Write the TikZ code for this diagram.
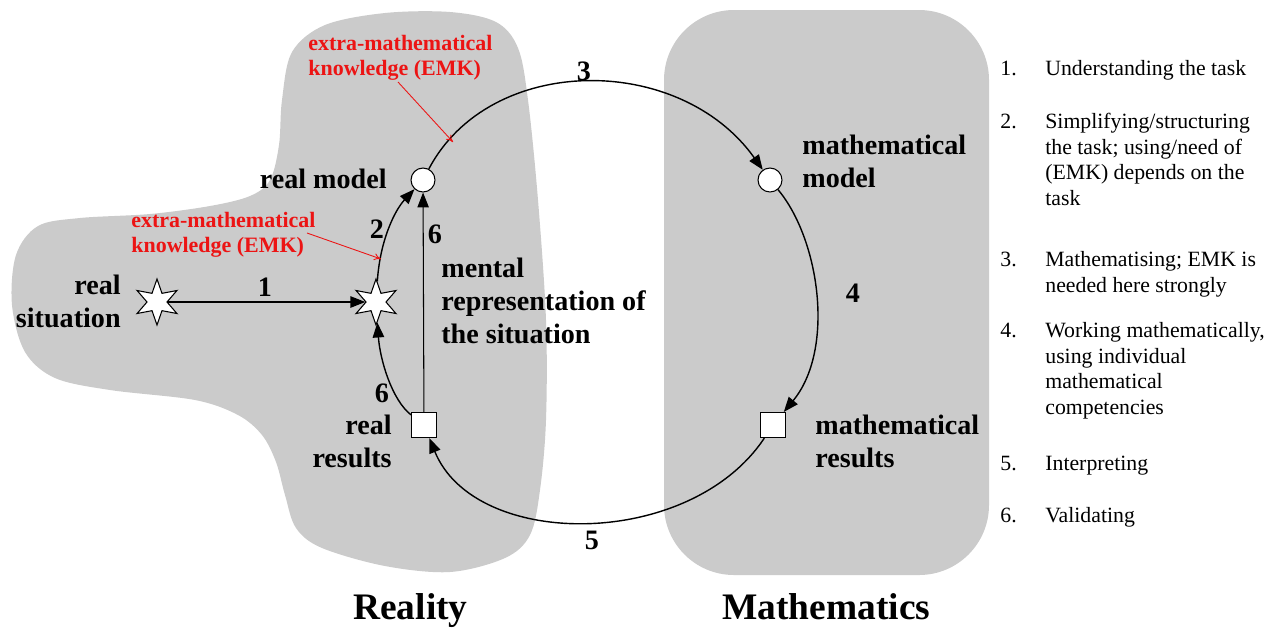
\documentclass[tikz,border=0pt]{standalone}
\usepackage{fontspec}
\setmainfont{Liberation Serif}
\usetikzlibrary{shapes.geometric,arrows.meta}
\definecolor{blobgray}{RGB}{203,203,203}
\definecolor{emkred}{RGB}{236,20,20}
\begin{document}
\begin{tikzpicture}[x=0.02cm,y=-0.02cm,
  lbl/.style={font=\fontsize{16}{18.7}\selectfont\bfseries, inner sep=0},
  num/.style={font=\fontsize{16}{18}\selectfont\bfseries, inner sep=0},
  emk/.style={font=\fontsize{12.5}{14.2}\selectfont\bfseries, text=emkred, inner sep=0, align=left},
  emkarrow/.style={draw=emkred, line width=0.5pt, -{To[length=4pt,width=4pt]}},
  ttl/.style={font=\fontsize{21.3}{24}\selectfont\bfseries, inner sep=0},
  itm/.style={font=\fontsize{12.4}{14.5}\selectfont, inner sep=0, align=left},
  starnode/.style={star, star points=6, star point ratio=2.3, minimum size=0.92cm, inner sep=0, draw, fill=white, line width=0.6pt},
  circnode/.style={circle, draw, fill=white, minimum size=0.48cm, inner sep=0, line width=0.6pt},
  sqnode/.style={rectangle, draw, fill=white, minimum size=0.5cm, inner sep=0, line width=0.6pt},
  conn/.style={draw, line width=0.8pt, -{Triangle[length=8.5pt,width=6.5pt]}}
]
\useasboundingbox (0,0) rectangle (1270,627);
% regions
\fill[blobgray] plot[smooth cycle, tension=0.55] coordinates {
 (282,100) (292,52) (325,25) (385,13) (450,12) (496,22) (518,48) (528,100)
 (538,200) (546,320) (546,420) (540,490) (530,535) (505,558) (450,572)
 (385,566) (322,548) (296,528) (285,495) (276,462) (262,435) (238,415)
 (195,400) (110,390) (55,378) (25,352) (12,305) (16,255) (38,226) (80,218)
 (150,214) (210,206) (250,196) (270,180) (279,145)};
\fill[blobgray, rounded corners=1.4cm] (664,10) rectangle (989,575);

% nodes
\node[starnode] (ls) at (157,302) {};
\node[starnode] (rs) at (376,302) {};
\node[circnode] (rm) at (423,180) {};
\node[circnode] (mm) at (770,180) {};
\node[sqnode] (rr) at (424,425) {};
\node[sqnode] (mr) at (773,425) {};

% connectors
\draw[conn] (ls) -- (rs);
\draw[conn] (rs) .. controls (380,240) and (395,210) .. (rm);
\draw[conn] (rm) .. controls (490,53) and (680,53) .. (mm);
\draw[conn] (mm) .. controls (820,240) and (835,350) .. (mr);
\draw[conn] (mr) .. controls (690,550) and (475,550) .. (rr);
\draw[conn] (rr) .. controls (392,400) and (380,360) .. (rs);
\draw[conn, line width=0.6pt] (rr) -- (rm);

% labels (base anchor = baseline of the last line)
\node[lbl, anchor=base east] (trm) at (387,188) {real model};
\node[lbl, anchor=base east, align=right] (trs) at (121,327) {real\\situation};
\node[lbl, anchor=base west, align=left] (tmr) at (441,343) {mental\\representation of\\the situation};
\node[lbl, anchor=base east, align=right] (trr) at (392,467) {real\\results};
\node[lbl, anchor=base west, align=left] (tmm) at (802,187) {mathematical\\model};
\node[lbl, anchor=base west, align=left] (tmres) at (815,467) {mathematical\\results};

\node[num] (n1) at (265,287) {1};
\node[num] (n2) at (377,229) {2};
\node[num] (n3) at (584,71) {3};
\node[num] (n4) at (853,293) {4};
\node[num] (n5) at (592,540) {5};
\node[num] (n6a) at (435,234) {6};
\node[num] (n6b) at (382,393) {6};

% EMK annotations
\node[emk, anchor=base west] (emka) at (308,75) {extra-mathematical\\knowledge (EMK)};
\node[emk, anchor=base west] (emkb) at (131,252) {extra-mathematical\\knowledge (EMK)};
\coordinate (ea0) at (398,82);
\coordinate (ea1) at (453,142);
\coordinate (eb0) at (307,233);
\coordinate (eb1) at (381,259);
\draw[emkarrow] (ea0) -- (ea1);
\draw[emkarrow] (eb0) -- (eb1);

% titles
\node[ttl, anchor=base west] (reality) at (353,619) {Reality};
\node[ttl, anchor=base west] (mathematics) at (722,619) {Mathematics};

% list
\node[itm, anchor=base west] (l1n) at (1000,75) {1.};
\node[itm, anchor=base west] (l1t) at (1045,75) {Understanding the task};
\node[itm, anchor=base west] (l2n) at (1000,128) {2.};
\node[itm, anchor=base west] (l2t) at (1045,205) {Simplifying/structuring\\the task; using/need of\\(EMK) depends on the\\task};
\node[itm, anchor=base west] (l3n) at (1000,266) {3.};
\node[itm, anchor=base west] (l3t) at (1045,292) {Mathematising; EMK is\\needed here strongly};
\node[itm, anchor=base west] (l4n) at (1000,337) {4.};
\node[itm, anchor=base west] (l4t) at (1045,414) {Working mathematically,\\using individual\\mathematical\\competencies};
\node[itm, anchor=base west] (l5n) at (1000,470) {5.};
\node[itm, anchor=base west] (l5t) at (1045,470) {Interpreting};
\node[itm, anchor=base west] (l6n) at (1000,522) {6.};
\node[itm, anchor=base west] (l6t) at (1045,522) {Validating};
\end{tikzpicture}
\end{document}
